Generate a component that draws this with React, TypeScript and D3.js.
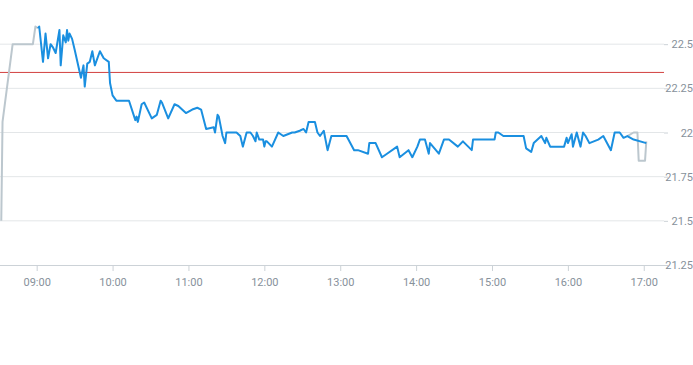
import React, { useEffect, useRef } from 'react';
import * as d3 from 'd3';

// readings (blue), times and values
const times = [
    "09:01", "09:02", "09:05", "09:07", "09:09", "09:11", "09:13", "09:15", "09:18", "09:19",
    "09:21", "09:23", "09:24", "09:25", "09:26", "09:28", "09:30", "09:35", "09:37", "09:38",
    "09:40", "09:42", "09:44", "09:46", "09:50", "09:53", "09:57", "09:58", "10:00", "10:03",
    "10:13", "10:18", "10:19", "10:20", "10:23", "10:25", "10:31", "10:35", "10:38", "10:39",
    "10:44", "10:49", "10:52", "10:58", "11:03", "11:07", "11:10", "11:14", "11:20", "11:21",
    "11:23", "11:24", "11:27", "11:29", "11:30", "11:38", "11:41", "11:43", "11:46", "11:49",
    "11:51", "11:53", "11:54", "11:56", "11:59", "12:00", "12:01", "12:02", "12:06", "12:11",
    "12:15", "12:22", "12:24", "12:28", "12:31", "12:33", "12:35", "12:40", "12:42", "12:44",
    "12:47", "12:50", "12:53", "13:05", "13:11", "13:14", "13:22", "13:23", "13:28", "13:33",
    "13:37", "13:45", "13:47", "13:54", "13:57", "14:01", "14:03", "14:07", "14:10", "14:11",
    "14:18", "14:22", "14:26", "14:33", "14:37", "14:44", "14:45", "15:02", "15:03", "15:05",
    "15:09", "15:25", "15:27", "15:31", "15:33", "15:39", "15:42", "15:43", "15:46", "15:52",
    "15:57", "15:59", "16:00", "16:03", "16:04", "16:07", "16:10", "16:12", "16:14", "16:17",
    "16:24", "16:28", "16:34", "16:37", "16:41", "16:44", "16:47", "16:52", "17:02"
];
const values = [
    22.59, 22.60, 22.40, 22.56, 22.42, 22.50, 22.48, 22.45, 22.58, 22.38,
    22.55, 22.51, 22.58, 22.52, 22.56, 22.53, 22.47, 22.31, 22.38, 22.26,
    22.39, 22.40, 22.46, 22.38, 22.46, 22.42, 22.40, 22.28, 22.21, 22.18,
    22.18, 22.07, 22.09, 22.06, 22.16, 22.17, 22.08, 22.10, 22.18, 22.17,
    22.08, 22.16, 22.15, 22.11, 22.13, 22.14, 22.13, 22.02, 22.03, 22.00,
    22.10, 22.09, 21.98, 21.94, 22.00, 22.00, 21.98, 21.92, 22.00, 22.00,
    21.98, 21.95, 22.00, 21.96, 21.96, 21.92, 21.95, 21.95, 21.92, 22.00,
    21.98, 22.00, 22.00, 22.01, 22.02, 22.00, 22.06, 22.06, 22.00, 21.98,
    22.01, 21.90, 21.98, 21.98, 21.90, 21.90, 21.88, 21.94, 21.94, 21.86,
    21.88, 21.92, 21.86, 21.90, 21.86, 21.92, 21.96, 21.96, 21.88, 21.94,
    21.88, 21.96, 21.96, 21.92, 21.95, 21.90, 21.96, 21.96, 22.00, 22.00,
    21.98, 21.98, 21.91, 21.89, 21.94, 21.98, 21.94, 21.97, 21.92, 21.92,
    21.92, 21.97, 21.94, 21.99, 21.92, 22.00, 21.92, 22.00, 21.98, 21.94,
    21.96, 21.98, 21.90, 22.00, 22.00, 21.97, 21.98, 21.96, 21.94
];

// raw series (grey) where it is not covered by the blue one
const rawHeadTimes = ["08:32", "08:33", "08:41", "08:57", "08:59", "09:01"];
const rawHeadValues = [21.5, 22.06, 22.5, 22.5, 22.6, 22.59];
const rawTailTimes = ["16:47", "16:52", "16:55", "16:56", "17:01", "17:02"];
const rawTailValues = [21.98, 22.0, 22.0, 21.84, 21.84, 21.95];

const threshold = 22.34;
const yTicks = [21.25, 21.5, 21.75, 22, 22.25, 22.5];
const xDomain = ["08:31", "17:16"];

const App = () => {
    const svgRef = useRef(null);

    useEffect(() => {
        const svg = d3.select(svgRef.current);
        svg.selectAll("*").remove();

        const plotW = 664;
        const plotH = 265;
        const parse = d3.timeParse("%H:%M");

        const x = d3.scaleTime()
            .domain(xDomain.map(parse))
            .range([0, plotW]);

        const y = d3.scaleLinear()
            .domain([21.25, 22.75])
            .range([plotH, 0]);

        // grid
        svg.append("g")
            .selectAll("line")
            .data(yTicks.slice(1))
            .join("line")
            .attr("x1", 0)
            .attr("x2", plotW)
            .attr("y1", d => y(d))
            .attr("y2", d => y(d))
            .attr("stroke", "#e3e6e8")
            .attr("stroke-width", 1);

        // right axis
        const yAxis = svg.append("g")
            .attr("transform", `translate(${plotW},0)`)
            .call(d3.axisRight(y).tickValues(yTicks).tickSize(4).tickFormat(d => String(d)));
        yAxis.select(".domain").remove();
        yAxis.selectAll(".tick line").attr("stroke", "#ccd2d7");
        yAxis.selectAll("text")
            .attr("x", 29)
            .attr("text-anchor", "end")
            .attr("fill", "#87919b")
            .style("font-family", "Roboto")
            .style("font-size", "11px");

        // bottom axis
        const xAxis = svg.append("g")
            .attr("transform", `translate(0,${plotH})`)
            .call(d3.axisBottom(x)
                .ticks(d3.timeHour.every(1))
                .tickSize(6)
                .tickFormat(d3.timeFormat("%H:%M")));
        xAxis.select(".domain")
            .attr("d", `M0,0.5H${plotW}`)
            .attr("stroke", "#ccd2d7");
        xAxis.selectAll(".tick line").attr("stroke", "#ccd2d7");
        xAxis.selectAll("text")
            .attr("y", 13)
            .attr("fill", "#87919b")
            .style("font-family", "Roboto")
            .style("font-size", "11px");

        // threshold
        svg.append("line")
            .attr("x1", 0)
            .attr("x2", plotW)
            .attr("y1", y(threshold))
            .attr("y2", y(threshold))
            .attr("stroke", "#d2403f")
            .attr("stroke-width", 1);

        const line = d3.line()
            .x(d => x(parse(d[0])))
            .y(d => y(d[1]));

        const raw = [d3.zip(rawHeadTimes, rawHeadValues), d3.zip(rawTailTimes, rawTailValues)];
        svg.append("g")
            .selectAll("path")
            .data(raw)
            .join("path")
            .attr("d", line)
            .attr("fill", "none")
            .attr("stroke", "#bcc7ce")
            .attr("stroke-width", 2)
            .attr("stroke-linejoin", "round");

        svg.append("path")
            .datum(d3.zip(times, values))
            .attr("d", line)
            .attr("fill", "none")
            .attr("stroke", "#1a8fe0")
            .attr("stroke-width", 2)
            .attr("stroke-linejoin", "round");
    }, []);

    return (
        <svg ref={svgRef} width={693} height={365}
            style={{ position: 'absolute', left: 0, top: 0 }}></svg>
    );
};

export default App;
